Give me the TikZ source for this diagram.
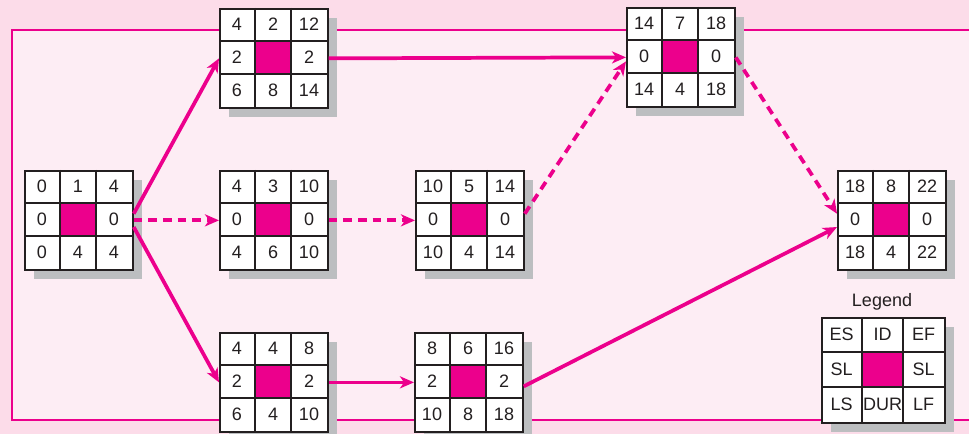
\documentclass[tikz,border=0pt]{standalone}
\usepackage{fontspec}
\setmainfont{Liberation Sans}
\usetikzlibrary{arrows.meta}
\definecolor{hot}{HTML}{EC008C}
\definecolor{shadowgray}{HTML}{BCBEC0}
\definecolor{paper}{HTML}{FCDCE9}
\definecolor{inner}{HTML}{FDEDF4}
\definecolor{ink}{HTML}{231F20}

% cell size in px
\def\cw{36}\def\ch{33}
% \actbox{name}{x,y}{ES,ID,EF}{SL,SL}{LS,DUR,LF}
\newcommand{\actbox}[5]{%
  \begin{scope}[shift={(#2)}]
    \fill[shadowgray] (10,10) rectangle ++(3*\cw,3*\ch);
    \node[frame, minimum width=2.25pt*\cw, minimum height=2.25pt*\ch,
          anchor=north west] (#1) at (0,0) {};
    \fill[hot] (\cw,\ch) rectangle ++(\cw,\ch);
    \draw[cell] (\cw,0) -- ++(0,3*\ch) (2*\cw,0) -- ++(0,3*\ch)
                (0,\ch) -- ++(3*\cw,0) (0,2*\ch) -- ++(3*\cw,0);
    \foreach \v [count=\i] in {#3}
      \node[num] (#1t\i) at ({(\i-0.5)*\cw},{0.5*\ch}) {\v};
    \foreach \v [count=\i] in {#4}
      \node[num] (#1m\i) at ({(2*\i-1.5)*\cw},{1.5*\ch}) {\v};
    \foreach \v [count=\i] in {#5}
      \node[num] (#1b\i) at ({(\i-0.5)*\cw},{2.5*\ch}) {\v};
  \end{scope}}

\begin{document}
\begin{tikzpicture}[x=0.75pt, y=-0.75pt,
    frame/.style={draw=ink, fill=white, line width=1.3pt, inner sep=0pt},
    cell/.style={ink, line width=0.9pt},
    num/.style={text=ink, inner sep=0pt, font=\fontsize{13.5}{14}\selectfont},
    rim/.style={hot, line width=2.2pt},
    flow/.style={hot, line width=2.8pt, -{Stealth[length=10.5pt,width=9pt,inset=3pt]}},
    crit/.style={flow, dash pattern=on 6.5pt off 4.5pt}]
  \useasboundingbox (0,0) rectangle (969,434);
  \fill[paper] (0,0) rectangle (969,434);
  \filldraw[rim, fill=inner] (12,30) rectangle (990,420);

  \actbox{A}{24,170}{0,1,4}{0,0}{0,4,4}
  \actbox{B}{219,8}{4,2,12}{2,2}{6,8,14}
  \actbox{C}{219,170}{4,3,10}{0,0}{4,6,10}
  \actbox{D}{415,170}{10,5,14}{0,0}{10,4,14}
  \actbox{E}{626,7}{14,7,18}{0,0}{14,4,18}
  \actbox{F}{837,170}{18,8,22}{0,0}{18,4,22}
  \actbox{G}{219,332}{4,4,8}{2,2}{6,4,10}
  \actbox{H}{414,332}{8,6,16}{2,2}{10,8,18}

  % legend
  \node[num] (keytitle) at (882,302) {Legend};
  \begin{scope}
    \def\cw{41}\def\ch{35}
    \actbox{key}{821,317}{ES,ID,EF}{SL,SL}{LS,DUR,LF}
  \end{scope}

  \draw[flow] ([yshift=5pt]A.east) -- (B.west);
  \draw[crit] (A.east) -- (C.west);
  \draw[flow] ([yshift=-5pt]A.east) -- (G.west);
  \draw[flow] (B.east) -- (E.west);
  \draw[crit] (C.east) -- (D.west);
  \draw[crit] ([yshift=5pt]D.east) -- ([yshift=-3pt]E.west);
  \draw[crit] (E.east) -- ([yshift=5pt]F.west);
  \draw[flow] (G.east) -- (H.west);
  \draw[flow] ([yshift=-3pt]H.east) -- ([yshift=-5pt]F.west);
\end{tikzpicture}
\end{document}
